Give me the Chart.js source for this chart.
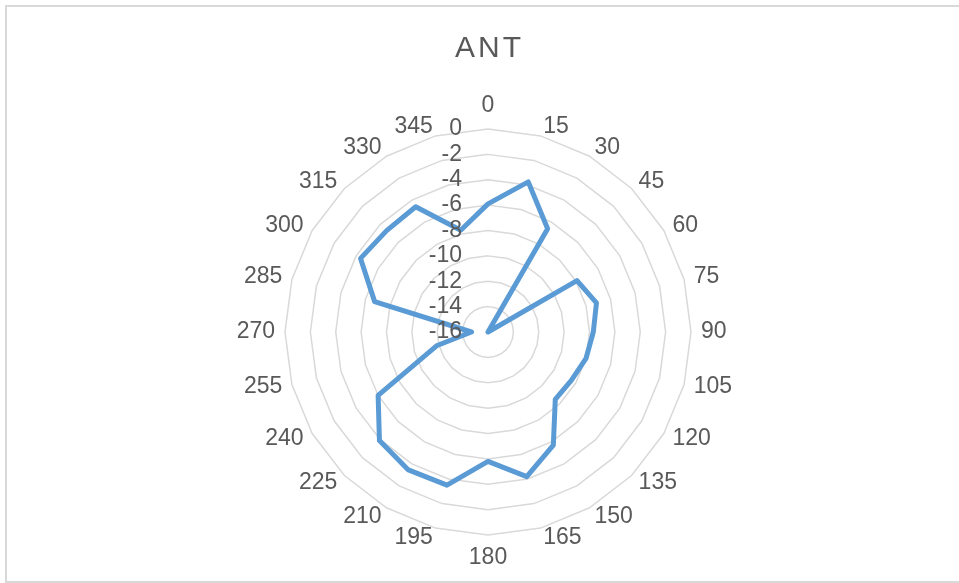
<!DOCTYPE html>
<html>
<head>
<meta charset="utf-8">
<script src="https://cdn.jsdelivr.net/npm/chart.js@4/dist/chart.umd.min.js"></script>
<style>
  body { margin: 0; background: #fff; }
  #frame { position: absolute; left: 5px; top: 5px; width: 960px; height: 574px; border: 2px solid #d9d9d9; }
  #chart { position: absolute; left: 0; top: 0; }
</style>
</head>
<body>
<div id="frame"></div>
<canvas id="chart" width="959" height="583"></canvas>
<script>
// angles (degrees) around the plot
const angles = ["0", "15", "30", "45", "60", "75", "90", "105", "120", "135", "150", "165",
	"180", "195", "210", "225", "240", "255", "270", "285", "300", "315", "330", "345"];
// ANT gain per angle
const antValues = [-5.9, -3.75, -6.6, -16, -7.9, -7.15, -7.7, -8.0, -8.4, -8.5, -5.7, -4.2,
	-5.8, -3.5, -3.45, -3.9, -6.0, -11.8, -14.7, -6.75, -4.4, -4.7, -4.6, -7.7];
// radial tick labels
const tickValues = [0, -2, -4, -6, -8, -10, -12, -14, -16];
const chartTitle = "ANT";

const textColor = "#595959";
const labelFont = "23px 'Liberation Sans', Arial, sans-serif";

// title, angle labels and radial tick labels placed the way the original puts them
const excelText = {
	id: "excelText",
	afterDatasetsDraw(chart) {
		const scale = chart.scales.r;
		const ctx = chart.ctx;
		const R = scale.drawingArea;
		ctx.save();
		ctx.fillStyle = textColor;

		// title
		ctx.font = "30px 'Liberation Sans', Arial, sans-serif";
		ctx.letterSpacing = "3px";
		ctx.textAlign = "center";
		ctx.textBaseline = "middle";
		ctx.fillText(chartTitle, scale.xCenter + 1.5, 49);
		ctx.letterSpacing = "0px";

		// angle labels
		ctx.font = labelFont;
		angles.forEach((lab, i) => {
			const p = scale.getPointPosition(i, R + 10);
			const a = Number(lab);
			let y = p.y;
			if (a === 0 || a === 180) {
				ctx.textAlign = "center";
				y += a === 0 ? -13 : 13;
			} else {
				ctx.textAlign = a < 180 ? "left" : "right";
			}
			ctx.fillText(lab, p.x, y);
		});

		// radial ticks, left of the vertical axis
		ctx.textAlign = "right";
		tickValues.forEach(v => {
			const d = scale.getDistanceFromCenterForValue(v);
			ctx.fillText(String(v), scale.xCenter - 26, scale.yCenter - d);
		});
		ctx.restore();
	}
};

new Chart(document.getElementById("chart"), {
	type: "radar",
	data: {
		labels: angles,
		datasets: [{
			label: chartTitle,
			data: antValues,
			borderColor: "#5b9bd5",
			borderWidth: 5,
			borderJoinStyle: "round",
			pointRadius: 0,
			fill: false
		}]
	},
	options: {
		responsive: false,
		animation: false,
		devicePixelRatio: 1,
		layout: { padding: { top: 129, bottom: 48, left: 17, right: 0 } },
		plugins: {
			legend: { display: false },
			tooltip: { enabled: false },
			title: { display: false }
		},
		scales: {
			r: {
				min: -16,
				max: 0,
				ticks: { stepSize: 2, display: false },
				grid: { color: "#d9d9d9", lineWidth: 1.5 },
				angleLines: { display: false },
				pointLabels: { display: false }
			}
		}
	},
	plugins: [excelText]
});
</script>
</body>
</html>
